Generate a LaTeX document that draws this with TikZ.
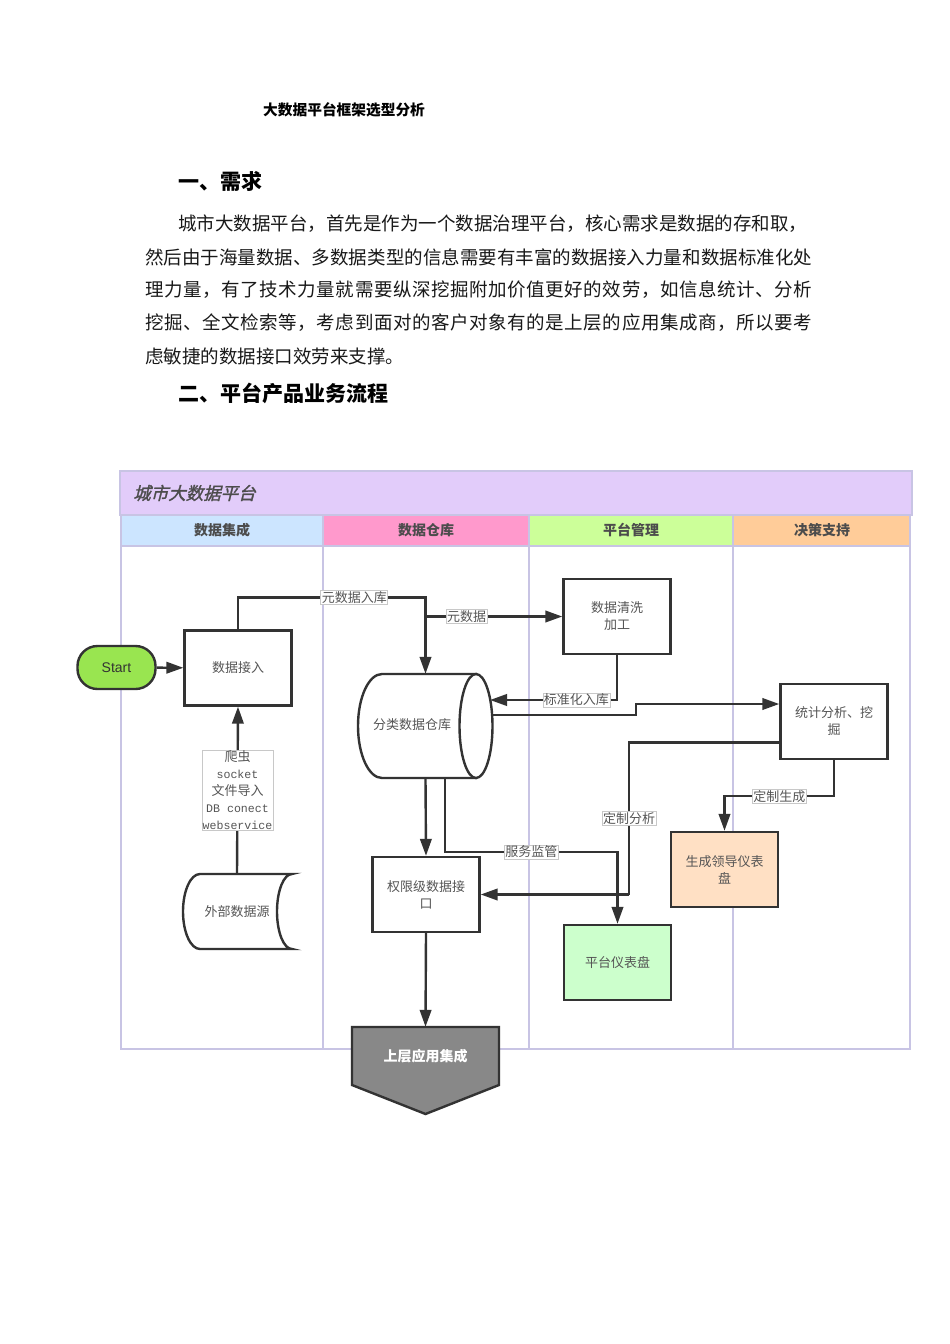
\documentclass[tikz,border=0pt]{standalone}
\usepackage{fontspec}
\setmainfont{Noto Sans CJK SC}
\newfontfamily\arialf{Liberation Sans}
\newfontfamily\monof{Liberation Mono}
\newfontfamily\cjkslant[FakeSlant=0.25,FakeBold=1.5]{Noto Sans CJK SC}
\usetikzlibrary{arrows.meta}
\definecolor{linec}{RGB}{51,51,51}
\definecolor{lav}{RGB}{200,196,228}
\definecolor{hdr}{RGB}{226,204,250}
\definecolor{blueH}{RGB}{204,229,255}
\definecolor{pinkH}{RGB}{255,153,204}
\definecolor{greenH}{RGB}{204,255,153}
\definecolor{orangeH}{RGB}{255,204,153}
\definecolor{startg}{RGB}{153,229,80}
\definecolor{peach}{RGB}{255,224,196}
\definecolor{mint}{RGB}{204,255,204}
\definecolor{appg}{RGB}{136,136,136}
\definecolor{txtg}{RGB}{85,85,85}
\definecolor{lblb}{RGB}{200,200,200}
\definecolor{bodyt}{RGB}{25,25,25}
\def\spreadline#1{\spreadA#1\relax}
\def\spreadA#1{#1\spreadB}
\def\spreadB#1{\ifx#1\relax\else\hfil#1\expandafter\spreadB\fi}
\tikzset{
  every node/.style={inner sep=0pt},
  box/.style={draw=linec, line width=2.4pt, minimum width=107pt, minimum height=75pt, align=center,
    text=txtg, font=\fontsize{13}{17}\selectfont},
  shp/.style={draw=linec, line width=2.4pt},
  conn/.style={draw=linec, line width=2.4pt, -{Triangle[length=17pt,width=11.5pt]}},
  plain/.style={draw=linec, line width=2.4pt},
  lbl/.style={fill=white, draw=lblb, line width=0.6pt, inner sep=1pt, text=txtg, font=\fontsize{13}{15}\selectfont},
  lanet/.style={font=\bfseries\fontsize{14}{16}\selectfont, text=black!70},
  para/.style={anchor=west, text=bodyt, font=\fontsize{18.5}{22}\selectfont},
  head/.style={anchor=west, text=black, font=\bfseries\fontsize{21}{24}\selectfont},
}
\begin{document}
\begin{tikzpicture}[x=1pt,y=-1pt]
\useasboundingbox (0,0) rectangle (950,1344);
\fill[white] (0,0) rectangle (950,1344);

% ---------- document text ----------
\node[anchor=west, font=\bfseries\fontsize{14.7}{17}\selectfont] (doctitle) at (263,110) {大数据平台框架选型分析};
\node[head] (h1) at (178,181) {一、需求};
\node[para] (p1) at (178,224) {城市大数据平台，首先是作为一个数据治理平台，核心需求是数据的存和取，};
\node[para] (p2) at (145,257) {\hbox to 667pt{\spreadline{然后由于海量数据、多数据类型的信息需要有丰富的数据接入力量和数据标准化处}}};
\node[para] (p3) at (145,290) {\hbox to 667pt{\spreadline{理力量，有了技术力量就需要纵深挖掘附加价值更好的效劳，如信息统计、分析}}};
\node[para] (p4) at (145,323) {\hbox to 667pt{\spreadline{挖掘、全文检索等，考虑到面对的客户对象有的是上层的应用集成商，所以要考}}};
\node[para] (p5) at (145,356) {虑敏捷的数据接口效劳来支撑。};
\node[head] (h2) at (178,393) {二、平台产品业务流程};

% ---------- swimlane frame ----------
\fill[hdr] (120,471) rectangle (912,515);
\fill[blueH] (121,516) rectangle (323,546);
\fill[pinkH] (324,516) rectangle (529,546);
\fill[greenH] (530,516) rectangle (733,546);
\fill[orangeH] (734,516) rectangle (910,546);
\draw[lav, line width=1.2pt] (120,471) rectangle (912,515);
\draw[lav, line width=2pt] (121,515) rectangle (910,1049);
\foreach \xx in {323,529,733} \draw[lav, line width=2pt] (\xx,516) -- (\xx,1049);
\draw[lav, line width=1.5pt] (121,546) -- (910,546);

\node[anchor=west, font=\cjkslant\fontsize{17.5}{20}\selectfont, text=black!70] (ptitle) at (133,493) {城市大数据平台};
\node[lanet] (lane1) at (222,530) {数据集成};
\node[lanet] (lane2) at (426,530) {数据仓库};
\node[lanet] (lane3) at (631,530) {平台管理};
\node[lanet] (lane4) at (822,530) {决策支持};

% ---------- shapes ----------
% cylinder
\filldraw[shp, fill=white] (382,674) -- (476,674) -- (476,778) -- (382,778)
   arc[start angle=90, end angle=270, x radius=24, y radius=52];
\filldraw[shp, fill=white] (476,726) ellipse[x radius=16.5, y radius=52];
\node[minimum width=135pt, minimum height=104pt] (cyl) at (425.5,726) {};
\node[text=txtg, font=\fontsize{13}{15}\selectfont] (cyltxt) at (412,725) {分类数据仓库};
\coordinate (cylR1) at (490,700);
\coordinate (cylR2) at (492,715);

% stored data
\filldraw[shp, fill=white] (200,874) -- (292,874)
   arc[start angle=270, end angle=90, x radius=15, y radius=37.5]
   -- (200,949) arc[start angle=90, end angle=270, x radius=17, y radius=37.5] -- cycle;
\node[minimum width=109pt, minimum height=75pt, text=txtg, font=\fontsize{13}{15}\selectfont] (waibu) at (237,911.5) {外部数据源};

% off-page connector
\filldraw[shp, fill=appg] (352,1027) -- (499,1027) -- (499,1085) -- (425.5,1114) -- (352,1085) -- cycle;
\node[minimum width=147pt, minimum height=58pt, text=white, font=\bfseries\fontsize{14}{16}\selectfont] (app) at (425.5,1056) {上层应用集成};

% start
\node[draw=linec, line width=2.4pt, fill=startg, rounded corners=20pt, minimum width=78pt, minimum height=43pt,
  font=\arialf\fontsize{14}{16}\selectfont, text=black!80] (start) at (116.5,667.5) {Start};

% boxes
\node[box] (jieru) at (238,668) {数据接入};
\node[box] (qingxi) at (617,616.5) {数据清洗\\加工};
\node[box] (tongji) at (834,721.5) {统计分析、挖\\掘};
\node[box, fill=peach] (lingdao) at (724.5,869.5) {生成领导仪表\\盘};
\node[box] (quanxian) at (426,894.5) {权限级数据接\\口};
\node[box, fill=mint] (yibiao) at (617.5,962.5) {平台仪表盘};

% ---------- connectors ----------
\draw[conn] (start) -- (jieru);
\draw[conn] (waibu.north) -- node[lbl, align=center, font=\fontsize{13}{17}\selectfont, inner sep=0.5pt] (srclbl)
  {爬虫\\{\monof\fontsize{11.6}{17}\selectfont socket}\\文件导入\\{\monof\fontsize{11.6}{17}\selectfont DB conect}\\{\monof\fontsize{11.6}{17}\selectfont webservice}} (jieru.south);
\draw[conn] (jieru.north) -- ++(0,-32) -| node[lbl, pos=0.31] (l1) {元数据入库} (cyl.north);
\draw[conn] (cyl.north |- qingxi.west) -- node[lbl, pos=0.30] (l2) {元数据} (qingxi.west);
\draw[conn] (qingxi.south) |- node[lbl, pos=0.66] (l3) {标准化入库} (cylR1);
\draw[conn] (cylR2) -- (636,715) -- (636,704) -- (tongji.west |- 0,704);
\draw[plain] (tongji.west |- 0,742.5) -| node[lbl, pos=0.75] (l4) {定制分析} (629,894.5);
\draw[conn] (629,894.5) -- (quanxian.east);
\draw[conn] (tongji.south) -- ++(0,36) -| node[lbl, pos=0.25] (l5) {定制生成} (lingdao.north);
\draw[conn] (cyl.south) -- (quanxian.north);
\draw[conn] (cyl.south -| 445,0) -- (445,852) -| node[lbl, pos=0.25] (l6) {服务监管} (yibiao.north);
\draw[conn] (quanxian.south) -- (app.north);
\end{tikzpicture}
\end{document}
